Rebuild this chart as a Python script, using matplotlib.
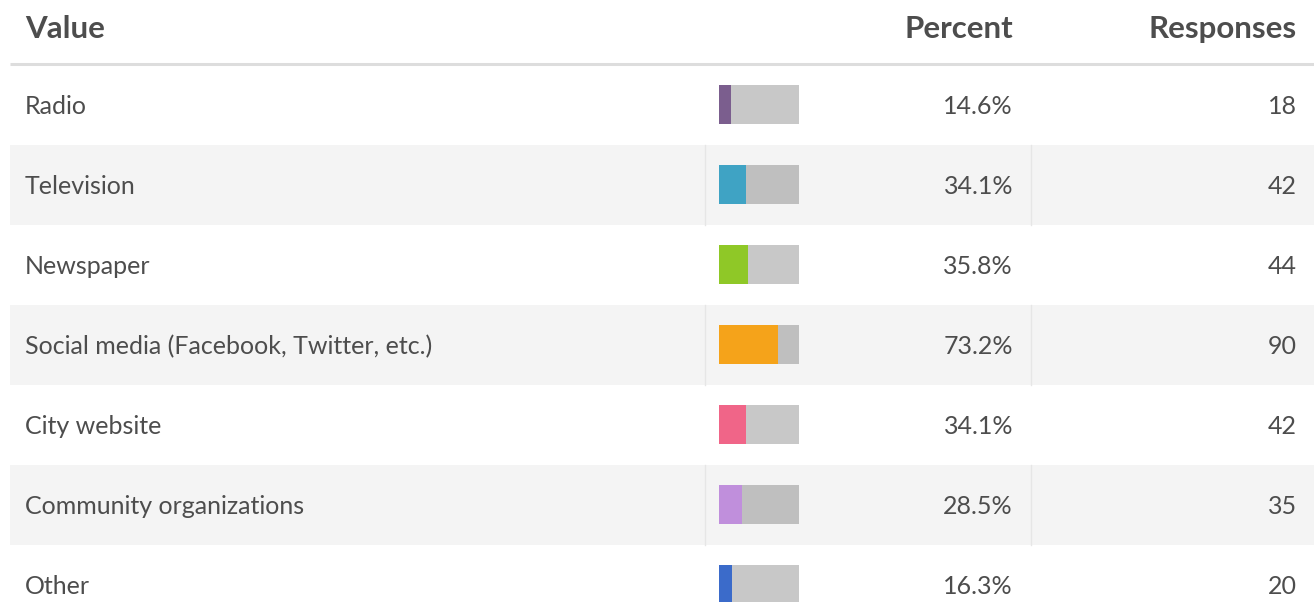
import matplotlib
matplotlib.use("Agg")
import matplotlib.pyplot as plt
from matplotlib.patches import Rectangle

labels = ["Radio", "Television", "Newspaper", "Social media (Facebook, Twitter, etc.)",
          "City website", "Community organizations", "Other"]
percents = [14.6, 34.1, 35.8, 73.2, 34.1, 28.5, 16.3]
responses = [18, 42, 44, 90, 42, 35, 20]
colors = ["#7b5e8e", "#3fa3c4", "#8fc827", "#f5a31a", "#f06588", "#c08fdc", "#3b6bca"]
headers = ["Value", "Percent", "Responses"]

W, H = 1314, 602
fig = plt.figure(figsize=(W / 100, H / 100), dpi=100)
ax = fig.add_axes([0, 0, 1, 1])
ax.set_xlim(0, W)
ax.set_ylim(H, 0)
ax.axis("off")

txt = "#4d4d4d"
font = "Lato"
top = 65      # first row top
rh = 80       # row height
bar_x, bar_w, bar_h = 719, 80, 39
hs, bs = 22.5, 18   # header / body font sizes

# header
ax.text(25, 38, headers[0], ha="left", va="baseline", fontsize=hs,
        fontweight="bold", color=txt, family=font)
ax.text(1013, 38, headers[1], ha="right", va="baseline", fontsize=hs,
        fontweight="bold", color=txt, family=font)
ax.text(1297, 38, headers[2], ha="right", va="baseline", fontsize=hs,
        fontweight="bold", color=txt, family=font)
ax.plot([10, W], [64, 64], color="#dddddd", lw=2.2, solid_capstyle="butt")

for i, lab in enumerate(labels):
    y0 = top + i * rh
    by = y0 + 49.5
    if i % 2 == 1:
        ax.add_patch(Rectangle((10, y0), W - 10, rh, facecolor="#f4f4f4",
                               edgecolor="none", zorder=0))
        ax.plot([704.5, 704.5], [y0, y0 + rh], color="#e6e6e6", lw=1, zorder=1)
        ax.plot([1030.5, 1030.5], [y0, y0 + rh], color="#e6e6e6", lw=1, zorder=1)
    ax.text(25, by, lab, ha="left", va="baseline", fontsize=bs, color=txt, family=font)
    ax.text(1013, by, f"{percents[i]:.1f}%", ha="right", va="baseline", fontsize=bs,
            color=txt, family=font)
    ax.text(1297, by, str(responses[i]), ha="right", va="baseline", fontsize=bs,
            color=txt, family=font)

centers = [top + i * rh + rh / 2 - 0.5 for i in range(len(labels))]
# grey track, semi-transparent so it darkens on the shaded rows
ax.barh(centers, [bar_w] * len(labels), height=bar_h, left=bar_x,
        color=(0, 0, 0, 0.215), zorder=2)
ax.barh(centers, [p / 100 * bar_w for p in percents], height=bar_h, left=bar_x,
        color=colors, zorder=3)

fig.savefig("out.png", dpi=100)
